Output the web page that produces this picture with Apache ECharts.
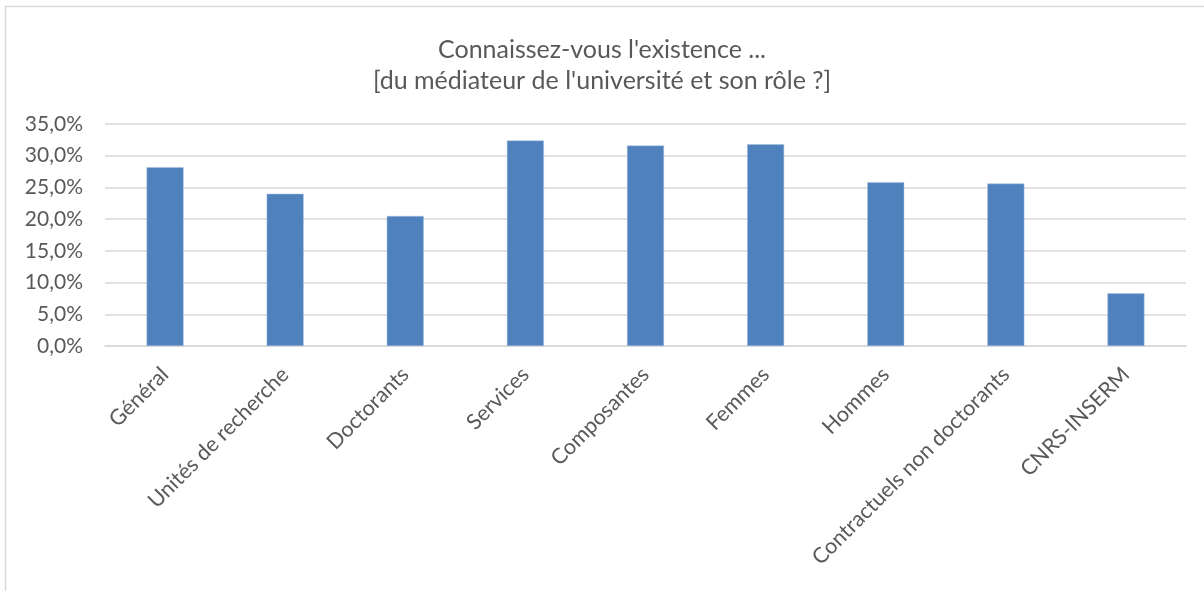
<!DOCTYPE html>
<html>
<head>
<meta charset="utf-8">
<script src="https://cdn.jsdelivr.net/npm/echarts@6/dist/echarts.min.js"></script>
<style>html,body{margin:0;padding:0;background:#fff;}#c{width:1204px;height:591px;}</style>
</head>
<body>
<div id="c"></div>
<script>
const categories = ["Général", "Unités de recherche", "Doctorants", "Services", "Composantes", "Femmes", "Hommes", "Contractuels non doctorants", "CNRS-INSERM"];
const values = [28.2, 24.0, 20.5, 32.4, 31.6, 31.8, 25.8, 25.6, 8.3];
const titleLines = ["Connaissez-vous l'existence ...", "[du médiateur de l'université et son rôle ?]"];

const chart = echarts.init(document.getElementById('c'));
const font = 'Lato, "Open Sans", sans-serif';
chart.setOption({
  animation: false,
  backgroundColor: '#fff',
  title: {
    text: titleLines.join('\n'),
    left: 'center',
    top: 29,
    textStyle: { fontFamily: font, fontSize: 25, fontWeight: 'normal', color: '#595959', lineHeight: 31 }
  },
  graphic: [
    { type: 'line', shape: { x1: 5.5, y1: 6, x2: 5.5, y2: 591 }, style: { stroke: '#d9d9d9', lineWidth: 1.5 } },
    { type: 'line', shape: { x1: 5, y1: 6.5, x2: 1204, y2: 6.5 }, style: { stroke: '#d9d9d9', lineWidth: 1.5 } }
  ],
  grid: { left: 105, right: 18, top: 124, bottom: 245 },
  xAxis: {
    type: 'category',
    data: categories,
    axisTick: { show: false },
    axisLine: { lineStyle: { color: '#d9d9d9', width: 1.5 } },
    axisLabel: { rotate: 45, interval: 0, margin: 25, fontFamily: font, fontSize: 21.5, color: '#595959' }
  },
  yAxis: {
    type: 'value',
    min: 0, max: 35, interval: 5,
    axisLine: { show: false },
    axisTick: { show: false },
    splitLine: { lineStyle: { color: '#d9d9d9', width: 1.5 } },
    axisLabel: {
      margin: 22, fontFamily: font, fontSize: 21, color: '#595959',
      formatter: v => v.toFixed(1).replace('.', ',') + '%'
    }
  },
  series: [{
    type: 'bar',
    data: values,
    barWidth: 37,
    itemStyle: { color: '#4F81BD', borderColor: '#a9c0e0', borderWidth: 0.5 }
  }]
});
</script>
</body>
</html>
